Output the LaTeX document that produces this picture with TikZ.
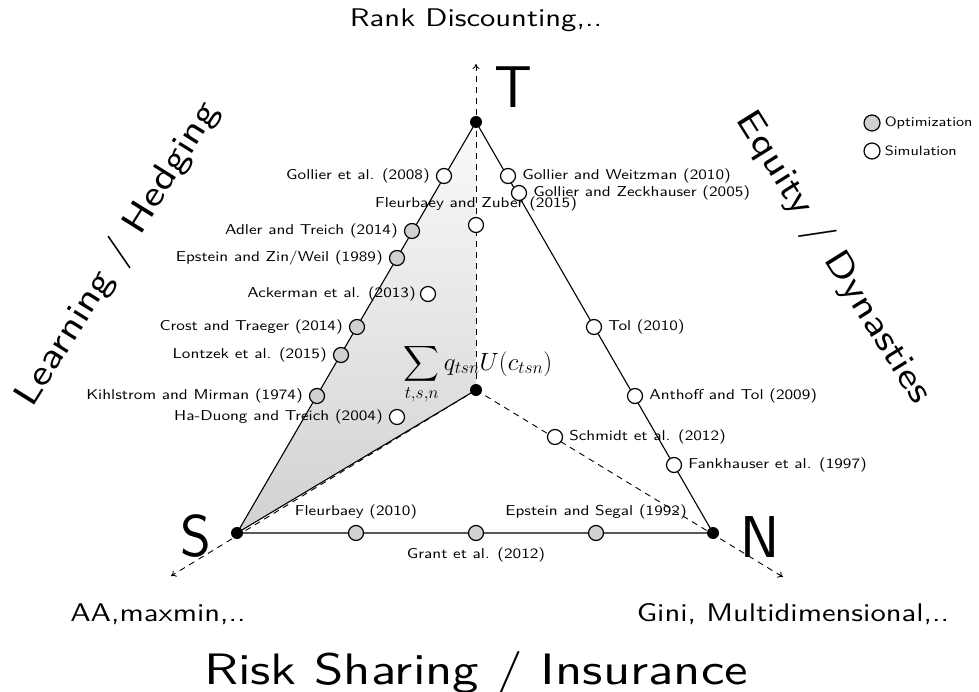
\documentclass[tikz,border=0pt]{standalone}
\usepackage{fix-cm}
\usepackage{exscale}
\usepackage{fontspec}
\newfontfamily\widesans{lmsans10-regular.otf}[FakeStretch=1.2]
\usetikzlibrary{arrows.meta,positioning}
\begin{document}
\begin{tikzpicture}[x=1pt,y=-1pt,
  opt/.style={circle,draw,fill=black!18,minimum size=15pt,inner sep=0pt,line width=1.2pt},
  sim/.style={circle,draw,fill=white,minimum size=15pt,inner sep=0pt,line width=1.2pt},
  vtx/.style={circle,fill=black,minimum size=12pt,inner sep=0pt},
  lab/.style={font=\fontsize{14.3}{17}\selectfont\widesans,inner sep=1pt},
  leglab/.style={font=\fontsize{13.5}{16}\selectfont\widesans,inner sep=1pt},
  edgeline/.style={line width=1.1pt},
  axis/.style={dash pattern=on 6pt off 5pt,line width=0.9pt,-{To[length=5pt,width=7pt]}},
  bigletter/.style={font=\fontsize{59}{70}\selectfont\sffamily,inner sep=0pt},
  corner/.style={font=\fontsize{25.5}{30}\selectfont\widesans,inner sep=0pt},
  side/.style={font=\fontsize{44}{50}\selectfont\widesans,inner sep=0pt},
  slanted/.style={font=\fontsize{36}{44}\selectfont\widesans,inner sep=0pt}]
\useasboundingbox (0,0) rectangle (979,692);
% vertices
\coordinate (T) at (476,122);
\coordinate (S) at (237,533);
\coordinate (N) at (713,533);
\coordinate (O) at (476,390);
\coordinate (Tend) at (476,64);
\coordinate (Send) at (171,576);
\coordinate (Nend) at (783,577);
% shaded region
\shade[top color=black!2,bottom color=black!18] (T) -- (S) -- (O) -- cycle;
% axes
\draw[axis] (O) -- (Tend);
\draw[axis] (O) -- (Send);
\draw[axis] (O) -- (Nend);
% triangle
\draw[edgeline] (T) -- (S) -- (N) -- cycle;
\draw[edgeline] (S) -- (O);
% vertex dots
\node[vtx] (Tdot) at (T) {};
\node[vtx] (Sdot) at (S) {};
\node[vtx] (Ndot) at (N) {};
\node[vtx] (Odot) at (O) {};
% big letters
\node[bigletter] (Tl) at (513,87) {T};
\node[bigletter] (Sl) at (196,536) {S};
\node[bigletter] (Nl) at (760,537) {N};
% sum
\node[font=\fontsize{25}{30}\selectfont,inner sep=0pt,anchor=base] (sum) at (478,370) {$\displaystyle\sum_{t,s,n} q_{tsn}U(c_{tsn})$};
% left edge
\node[sim] (g08) at (444,176) {};
\node[lab,left=5pt of g08] (g08l) {Gollier et al. (2008)};
\node[opt] (at14) at (412,231) {};
\node[lab,left=5pt of at14] (at14l) {Adler and Treich (2014)};
\node[opt] (ez89) at (397,258) {};
\node[lab,left=5pt of ez89] (ez89l) {Epstein and Zin/Weil (1989)};
\node[sim] (ac13) at (428,294) {};
\node[lab,left=3pt of ac13] (ac13l) {Ackerman et al. (2013)};
\node[opt] (ct14) at (357,327) {};
\node[lab,left=5pt of ct14] (ct14l) {Crost and Traeger (2014)};
\node[opt] (lo15) at (341,355) {};
\node[lab,left=5pt of lo15] (lo15l) {Lontzek et al. (2015)};
\node[opt] (km74) at (317,396) {};
\node[lab,left=5pt of km74] (km74l) {Kihlstrom and Mirman (1974)};
\node[sim] (hd04) at (397,417) {};
\node[lab,left=5pt of hd04] (hd04l) {Ha-Duong and Treich (2004)};
% vertical axis
\node[sim] (fz15) at (476,225) {};
\node[lab,above=5pt of fz15] (fz15l) {Fleurbaey and Zuber (2015)};
% right edge
\node[sim] (gw10) at (508,176) {};
\node[lab,right=5pt of gw10] (gw10l) {Gollier and Weitzman (2010)};
\node[sim] (gz05) at (519,193) {};
\node[lab,right=5pt of gz05] (gz05l) {Gollier and Zeckhauser (2005)};
\node[sim] (to10) at (594,327) {};
\node[lab,right=5pt of to10] (to10l) {Tol (2010)};
\node[sim] (at09) at (635,396) {};
\node[lab,right=5pt of at09] (at09l) {Anthoff and Tol (2009)};
\node[sim] (sc12) at (555,437) {};
\node[lab,right=5pt of sc12] (sc12l) {Schmidt et al. (2012)};
\node[sim] (fa97) at (674,465) {};
\node[lab,right=5pt of fa97] (fa97l) {Fankhauser et al. (1997)};
% bottom edge
\node[opt] (fl10) at (356,533) {};
\node[lab,above=5pt of fl10] (fl10l) {Fleurbaey (2010)};
\node[opt] (gr12) at (476,533) {};
\node[lab,below=5pt of gr12] (gr12l) {Grant et al. (2012)};
\node[opt] (es92) at (596,533) {};
\node[lab,above=5pt of es92] (es92l) {Epstein and Segal (1992)};
% legend
\node[opt,minimum size=16pt] (lg1) at (872,123) {};
\node[leglab,right=3pt of lg1] (lg1l) {Optimization};
\node[sim,minimum size=16pt] (lg2) at (872,151) {};
\node[leglab,right=3pt of lg2] (lg2l) {Simulation};
% outer labels
\node[corner,anchor=base] (rank) at (476,27) {Rank Discounting,..};
\node[corner,anchor=base] (aa) at (158,621) {AA,maxmin,..};
\node[corner,anchor=base] (gini) at (793,621) {Gini, Multidimensional,..};
\node[side,anchor=base] (risk) at (476,684) {Risk Sharing / Insurance};
\node[slanted,rotate=58] (learn) at (118,255) {Learning / Hedging};
\node[slanted,rotate=-58] (equity) at (833,258) {Equity / Dynasties};
\end{tikzpicture}
\end{document}
